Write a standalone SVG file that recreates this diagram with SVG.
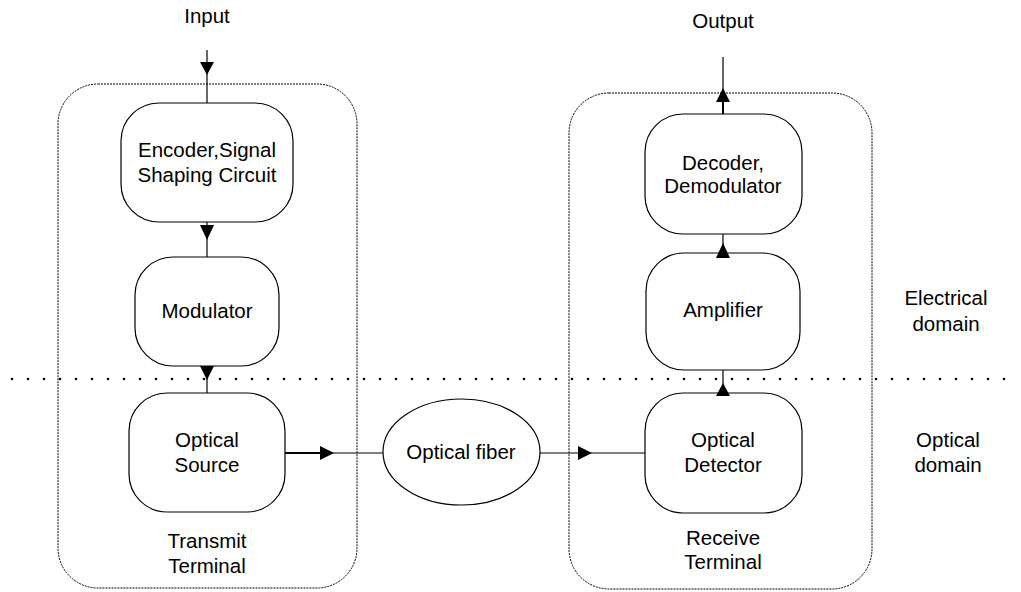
<svg xmlns="http://www.w3.org/2000/svg" width="1021" height="592" viewBox="0 0 1021 592">
<style>
text{font-family:"Liberation Sans",Arial,sans-serif;font-size:20.5px;fill:#000;text-anchor:middle}
.box{fill:#fff;stroke:#000;stroke-width:1.2}
.term{fill:none;stroke:#000;stroke-width:1;stroke-dasharray:2,1}
.ln{stroke:#000;stroke-width:1.2;fill:none}
.thk{stroke:#000;stroke-width:2;fill:none}
.ah{fill:#000}
</style>
<rect width="1021" height="592" fill="#fff"/>
<g id="transmit-terminal"><rect class="term" x="58" y="84" width="299" height="504" rx="40" ry="40"/><text x="207" y="548">Transmit</text><text x="207" y="573">Terminal</text></g>
<g id="receive-terminal"><rect class="term" x="569" y="93" width="303" height="496" rx="40" ry="40"/><text x="723" y="545">Receive</text><text x="723" y="569">Terminal</text></g>
<g id="domain-divider"><line x1="12" y1="379" x2="1012" y2="379" stroke="#000" stroke-width="2.6" stroke-linecap="round" stroke-dasharray="0,16"/></g>
<g id="input-label"><text x="207" y="23">Input</text></g>
<g id="output-label"><text x="723" y="28">Output</text></g>
<g id="encoder"><rect class="box" x="121" y="103" width="172" height="119" rx="38" ry="38"/><text x="207" y="157">Encoder,Signal</text><text x="207" y="182">Shaping Circuit</text></g>
<g id="modulator"><rect class="box" x="135" y="257" width="144" height="109" rx="38" ry="38"/><text x="207" y="318">Modulator</text></g>
<g id="optical-source"><rect class="box" x="129" y="393" width="156" height="119" rx="38" ry="38"/><text x="207" y="447">Optical</text><text x="207" y="472">Source</text></g>
<g id="optical-fiber"><ellipse class="box" cx="461.5" cy="452" rx="78.5" ry="53"/><text x="461" y="459">Optical fiber</text></g>
<g id="optical-detector"><rect class="box" x="645" y="393" width="157" height="120" rx="38" ry="38"/><text x="723" y="447">Optical</text><text x="723" y="472">Detector</text></g>
<g id="amplifier"><rect class="box" x="646" y="253" width="154" height="117" rx="38" ry="38"/><text x="723" y="317">Amplifier</text></g>
<g id="decoder"><rect class="box" x="645" y="114" width="157" height="120" rx="38" ry="38"/><text x="723" y="170">Decoder,</text><text x="723" y="193">Demodulator</text></g>
<g id="electrical-domain"><text x="946" y="305">Electrical</text><text x="946" y="331">domain</text></g>
<g id="optical-domain"><text x="948" y="447">Optical</text><text x="948" y="472">domain</text></g>
<g id="connectors">
<line class="ln" x1="207" y1="50" x2="207" y2="103"/><polygon class="ah" points="200,62 214,62 207,75"/>
<line class="ln" x1="207" y1="222" x2="207" y2="257"/><polygon class="ah" points="200,225 214,225 207,240"/>
<line class="ln" x1="207" y1="366" x2="207" y2="393"/><polygon class="ah" points="200,366 214,366 207,380"/>
<line class="thk" x1="285" y1="453" x2="322" y2="453"/><line class="ln" x1="322" y1="453" x2="383" y2="453"/><polygon class="ah" points="320,446 320,460 334,453"/>
<line class="ln" x1="540" y1="453" x2="645" y2="453"/><polygon class="ah" points="578,446 578,460 592,453"/>
<line class="ln" x1="723" y1="393" x2="723" y2="370"/><polygon class="ah" points="716,396 730,396 723,383"/>
<line class="ln" x1="723" y1="253" x2="723" y2="234"/><polygon class="ah" points="716,258 730,258 723,243"/>
<line class="thk" x1="723" y1="114" x2="723" y2="100"/><line class="ln" x1="723" y1="100" x2="723" y2="57"/><polygon class="ah" points="716,102 730,102 723,88"/>
</g>
</svg>
